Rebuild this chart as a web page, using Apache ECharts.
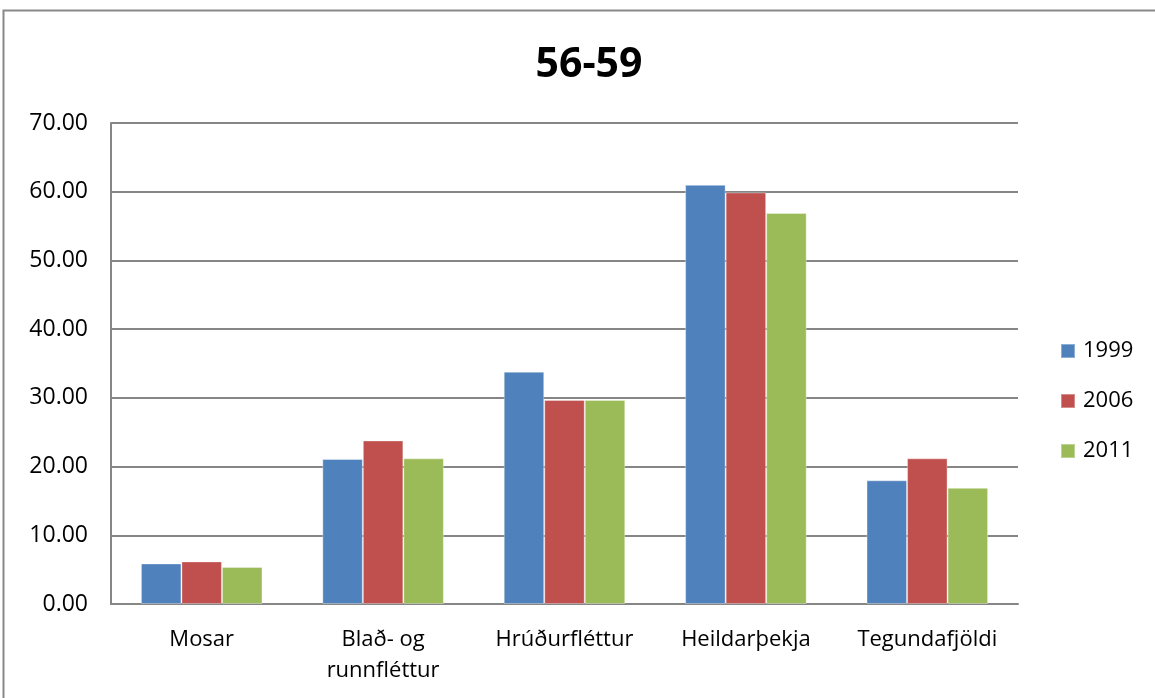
<!DOCTYPE html>
<html>
<head>
<meta charset="utf-8">
<script src="https://cdn.jsdelivr.net/npm/echarts@6/dist/echarts.min.js"></script>
<style>
html,body{margin:0;padding:0;background:#fff;}
#chart{width:1155px;height:698px;}
</style>
</head>
<body>
<div id="chart"></div>
<script>
// Cover (%) by group and survey year
const categories = ['Mosar', 'Blað- og\nrunnfléttur', 'Hrúðurfléttur', 'Heildarþekja', 'Tegundafjöldi'];
const years = ['1999', '2006', '2011'];
const values1999 = [5.9, 21.1, 33.8, 61.0, 18.0];
const values2006 = [6.2, 23.8, 29.7, 59.9, 21.2];
const values2011 = [5.4, 21.2, 29.7, 56.9, 16.9];
const colors = ['#4f81bd', '#c0504d', '#9bbb59'];
const yTicks = { min: 0, max: 70, interval: 10 };

const font = '"Open Sans", "Noto Sans", sans-serif';
const seriesValues = [values1999, values2006, values2011];

const chart = echarts.init(document.getElementById('chart'), null, { renderer: 'canvas' });
chart.setOption({
  animation: false,
  backgroundColor: '#fff',
  title: {
    text: '56-59',
    left: 584, top: 40, textAlign: 'center',
    textStyle: { fontFamily: font, fontSize: 41, fontWeight: 'bold', color: '#000' }
  },
  legend: {
    orient: 'vertical',
    left: 1060, top: 340, padding: 0,
    itemWidth: 14, itemHeight: 14, itemGap: 28,
    icon: 'rect',
    textStyle: { fontFamily: font, fontSize: 22, color: '#000', padding: [0, 0, 0, 3] },
    data: years
  },
  grid: { left: 111, top: 123, width: 907, height: 481, containLabel: false },
  xAxis: {
    type: 'category',
    data: categories,
    axisLine: { lineStyle: { color: '#868686', width: 2 } },
    axisTick: { show: false },
    axisLabel: { fontFamily: font, fontSize: 22, color: '#000', margin: 20, lineHeight: 31, interval: 0 }
  },
  yAxis: {
    type: 'value',
    min: yTicks.min, max: yTicks.max, interval: yTicks.interval,
    axisLine: { show: true, lineStyle: { color: '#868686', width: 2 } },
    axisTick: { show: false },
    splitLine: { lineStyle: { color: '#868686', width: 2 } },
    axisLabel: { fontFamily: font, fontSize: 23, color: '#000', margin: 23,
      formatter: v => v.toFixed(2) }
  },
  series: years.map((y, i) => ({
    name: y,
    type: 'bar',
    data: seriesValues[i],
    barGap: '0%',
    barCategoryGap: '33%',
    itemStyle: { color: colors[i], borderColor: 'rgba(255,255,255,0.35)', borderWidth: 1 }
  })),
  graphic: [{
    type: 'rect',
    shape: { x: 3.5, y: 10.5, width: 1170, height: 700 },
    style: { fill: 'none', stroke: '#898989', lineWidth: 2 },
    silent: true, z: 100
  }]
});
</script>
</body>
</html>
